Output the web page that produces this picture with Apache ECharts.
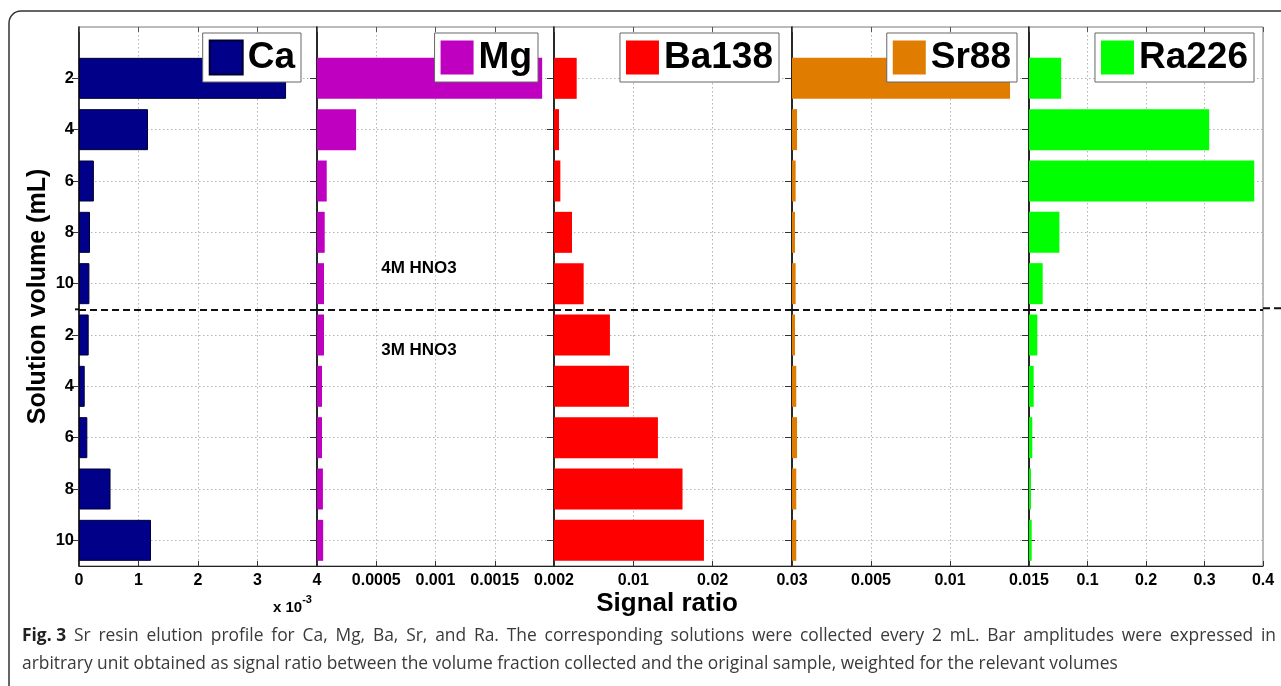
<!DOCTYPE html>
<html>
<head>
<meta charset="utf-8">
<script src="https://cdn.jsdelivr.net/npm/echarts@6/dist/echarts.min.js"></script>
<style>
html,body{margin:0;padding:0;background:#fff;}
#chart{width:1281px;height:686px;}
</style>
</head>
<body>
<div id="chart"></div>
<script>
// ---- data ----
const categories = ['2', '4', '6', '8', '10', '2', '4', '6', '8', '10'];
const seriesNames = ['Ca', 'Mg', 'Ba138', 'Sr88', 'Ra226'];
const caValues = [3.48, 1.16, 0.25, 0.185, 0.175, 0.163, 0.096, 0.14, 0.53, 1.21]; // x 10^-3
const mgValues = [0.0019, 0.00033, 0.000082, 0.000065, 0.000059, 0.000059, 0.000042, 0.000042, 0.00005, 0.000052];
const baValues = [0.00286, 0.00063, 0.0008, 0.00227, 0.00374, 0.00705, 0.00945, 0.0131, 0.0162, 0.0189];
const srValues = [0.0138, 0.00032, 0.00023, 0.00019, 0.00023, 0.00019, 0.00027, 0.00032, 0.00027, 0.00027];
const raValues = [0.055, 0.308, 0.385, 0.052, 0.0234, 0.0142, 0.008, 0.0056, 0.0034, 0.0046];
const axisMax = [4, 0.002, 0.03, 0.015, 0.4];
const axisInterval = [1, 0.0005, 0.01, 0.005, 0.1];
const colors = ['#000088', '#c000c0', '#ff0000', '#e07c00', '#00ff00'];
const allValues = [caValues, mgValues, baValues, srValues, raValues];

// ---- layout ----
const panelLeft = [79, 317, 554, 792, 1029];
const panelWidth = [238, 237, 238, 237, 234];
const gridTop = 27, gridHeight = 539;
const SLOTS = 22; // half-step slots: bars at slots 2,4,...,20 ; separator at 11
const slotNames = Array.from({length: SLOTS}, (_, i) => String(i));
function slotData(vals) {
  const arr = new Array(SLOTS).fill(null);
  vals.forEach((v, i) => { arr[2 + 2 * i] = v; });
  return arr;
}
const isTickSlot = (idx) => idx >= 2 && idx <= 20 && idx % 2 === 0;
const FF = 'Liberation Sans, Arial, sans-serif';

const chart = echarts.init(document.getElementById('chart'), null, {renderer: 'canvas'});

const grids = [], xAxes = [], yAxes = [], series = [], legends = [];
const legendRight = [980, 743, 502, 264, 27];
for (let p = 0; p < 5; p++) {
  grids.push({left: panelLeft[p], width: panelWidth[p], top: gridTop, height: gridHeight,
    show: true, borderColor: '#777', borderWidth: 1, backgroundColor: 'transparent'});
  xAxes.push({type: 'value', gridIndex: p, min: 0, max: axisMax[p], interval: axisInterval[p],
    position: 'bottom',
    axisLine: {show: true, onZero: false, lineStyle: {color: '#222', width: 1}},
    axisTick: {show: true, inside: true, length: 5, lineStyle: {color: '#333'}},
    axisLabel: {show: true, showMinLabel: p === 0, showMaxLabel: true, color: '#000', fontSize: 16,
      fontWeight: 'bold', fontFamily: FF, margin: 7,
      formatter: (v) => String(v)},
    splitLine: {show: true, lineStyle: {color: '#b4b4b4', type: [1.5, 2.5], width: 1}}
  });
  xAxes.push({type: 'value', gridIndex: p, min: 0, max: axisMax[p], interval: axisInterval[p],
    position: 'top',
    axisLine: {show: false}, axisLabel: {show: false}, splitLine: {show: false},
    axisTick: {show: true, inside: true, length: 5, lineStyle: {color: '#555'}}
  });
  yAxes.push({type: 'category', gridIndex: p, data: slotNames, boundaryGap: false, inverse: true,
    position: 'left',
    axisLine: {show: true, lineStyle: {color: '#000', width: 1.5}},
    axisTick: {show: true, inside: true, length: 6, interval: (i) => isTickSlot(i), lineStyle: {color: '#333'}},
    axisLabel: {show: p === 0, interval: (i) => isTickSlot(i), color: '#000', fontSize: 16.5, fontWeight: 'bold',
      fontFamily: FF, margin: 5,
      formatter: (v) => { const i = +v; return isTickSlot(i) ? categories[(i - 2) / 2] : ''; }},
    splitLine: {show: true, interval: (i) => isTickSlot(i), lineStyle: {color: '#b4b4b4', type: [1.5, 2.5], width: 1}},
    name: p === 0 ? 'Solution volume (mL)' : '', nameLocation: 'middle', nameGap: 28, nameRotate: 90,
    nameTextStyle: {fontSize: 25, fontWeight: 'bold', color: '#000', fontFamily: FF}
  });
  yAxes.push({type: 'category', gridIndex: p, data: slotNames, boundaryGap: false, inverse: true,
    position: 'right',
    axisLine: {show: false}, axisLabel: {show: false}, splitLine: {show: false},
    axisTick: {show: true, inside: true, length: 7, interval: (i) => isTickSlot(i), lineStyle: {color: '#333'}}
  });
  series.push({
    name: seriesNames[p], type: 'bar', xAxisIndex: 2 * p, yAxisIndex: 2 * p,
    data: slotData(allValues[p]), barWidth: 41,
    itemStyle: {color: colors[p], borderColor: p === 0 ? '#000033' : colors[p], borderWidth: p === 0 ? 1 : 0},
    emphasis: {disabled: true}, animation: false,
    markLine: {silent: true, symbol: 'none', animation: false, label: {show: false},
      lineStyle: {color: '#111', type: [7, 4], width: 2},
      data: [{yAxis: '11'}]}
  });
  legends.push({data: [seriesNames[p]], right: legendRight[p], top: 33, orient: 'horizontal',
    backgroundColor: '#fff', borderColor: '#666', borderWidth: 1, padding: [6, 6, 6, 6],
    itemWidth: 33, itemHeight: 34, icon: 'rect', selectedMode: false,
    textStyle: {fontSize: 37, fontWeight: 'bold', color: '#000', lineHeight: 36, fontFamily: FF}});
}

chart.setOption({
  animation: false,
  backgroundColor: '#fff',
  grid: grids, xAxis: xAxes, yAxis: yAxes, series: series, legend: legends
});

// ---- caption (justified first line) ----
const capSize = 18.5, capScale = 0.94;
const capFont = capSize + 'px "Open Sans", sans-serif';
const capBold = 'bold ' + capSize + 'px "Open Sans", sans-serif';
const caption1 = 'Sr resin elution profile for Ca, Mg, Ba, Sr, and Ra. The corresponding solutions were collected every 2 mL. Bar amplitudes were expressed in';
const caption2 = 'arbitrary unit obtained as signal ratio between the volume fraction collected and the original sample, weighted for the relevant volumes';
const mctx = document.createElement('canvas').getContext('2d');
const tokens = [{t: 'Fig. 3', f: capBold, c: '#222'}].concat(caption1.split(' ').map(w => ({t: w, f: capFont, c: '#3a3a3a'})));
let natural = 0;
tokens.forEach(tk => { mctx.font = tk.f; tk.w = mctx.measureText(tk.t).width; natural += tk.w; });
const target = (1276 - 22) / capScale;
const gap = (target - natural) / (tokens.length - 1);
let cx = 0;
const line1 = tokens.map(tk => { const el = {type: 'text', x: cx, y: 636, silent: true,
  style: {text: tk.t, font: tk.f, fill: tk.c, verticalAlign: 'middle', align: 'left'}}; cx += tk.w + gap; return el; });

const sepY = chart.convertToPixel({yAxisIndex: 0}, '11');
chart.setOption({graphic: [
  {type: 'rect', shape: {x: 9, y: 11, width: 1320, height: 720, r: 12}, silent: true,
    style: {fill: 'none', stroke: '#333', lineWidth: 1.5}},
  {type: 'line', shape: {x1: 1263, y1: sepY - 1, x2: 1281, y2: sepY - 1}, silent: true,
    style: {stroke: '#111', lineWidth: 2, lineDash: [7, 4]}},
  {type: 'line', shape: {x1: 75, y1: sepY, x2: 79, y2: sepY}, silent: true,
    style: {stroke: '#111', lineWidth: 2}},
  {type: 'text', x: 419, y: 268, silent: true, style: {text: '4M HNO3', fill: '#000', font: 'bold 17px "Liberation Sans", Arial, sans-serif', align: 'center', verticalAlign: 'middle'}},
  {type: 'text', x: 419, y: 350, silent: true, style: {text: '3M HNO3', fill: '#000', font: 'bold 17px "Liberation Sans", Arial, sans-serif', align: 'center', verticalAlign: 'middle'}},
  {type: 'text', x: 667, y: 604, silent: true, style: {text: 'Signal ratio', fill: '#000', font: 'bold 26px "Liberation Sans", Arial, sans-serif', align: 'center', verticalAlign: 'middle'}},
  {type: 'text', x: 273, y: 605, silent: true, style: {
    text: '{a|x 10}{s|-3}', verticalAlign: 'middle', align: 'left',
    rich: {a: {fontSize: 15, fontWeight: 'bold', fill: '#000', fontFamily: FF, verticalAlign: 'bottom'},
           s: {fontSize: 11, fontWeight: 'bold', fill: '#000', fontFamily: FF, verticalAlign: 'top', padding: [0, 0, 10, 0]}}}},
  {type: 'group', x: 22, y: 0, scaleX: capScale, scaleY: 1, children: line1.concat([
    {type: 'text', x: 0, y: 664, silent: true, style: {text: caption2, verticalAlign: 'middle', align: 'left',
      fill: '#3a3a3a', font: capFont}}
  ])}
]});
</script>
</body>
</html>
